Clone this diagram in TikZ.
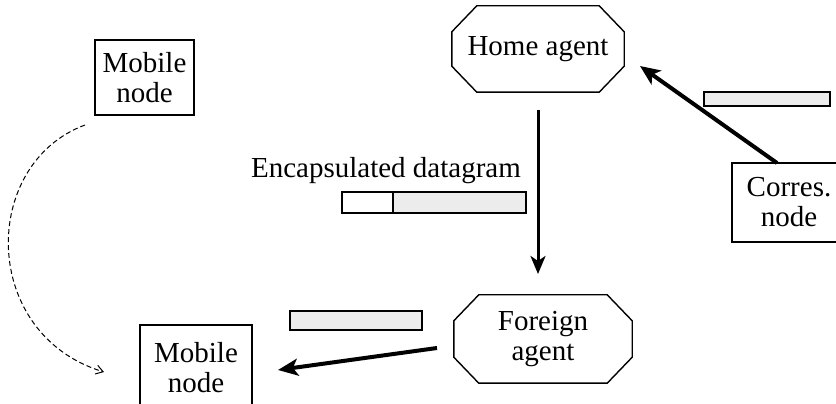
\documentclass[tikz,border=0pt]{standalone}
\usepackage{fontspec}
\setmainfont{Liberation Serif}
\usetikzlibrary{arrows.meta}
\newcommand\octagonframe[3]{%
  \draw[frameline] ([xshift=#2pt]#1.north west) -- ([xshift=-#2pt]#1.north east)
    -- ([yshift=-#3pt]#1.north east) -- ([yshift=#3pt]#1.south east)
    -- ([xshift=-#2pt]#1.south east) -- ([xshift=#2pt]#1.south west)
    -- ([yshift=#3pt]#1.south west) -- ([yshift=-#3pt]#1.north west) -- cycle;}
\begin{document}
\begin{tikzpicture}[x=1pt,y=1pt,
  frameline/.style={line width=1.4pt, line join=miter},
  lbl/.style={font=\fontsize{29}{30}\selectfont, align=center, inner sep=0pt},
  boxnode/.style={lbl, draw, line width=1.3pt, minimum width=#1},
  octnode/.style={lbl, minimum width=#1},
  bigarrow/.style={line width=4pt, -{Stealth[length=20pt,width=17pt,inset=5pt]}},
  midarrow/.style={line width=3pt, -{Stealth[length=18pt,width=15pt,inset=5pt]}},
  packet/.style={draw, line width=1.2pt, fill=gray!15},
  plain/.style={draw, line width=1.2pt, fill=white}]
\useasboundingbox (0,0) rectangle (836,404);

% nodes
\node[boxnode=99pt, minimum height=75pt] (mn1) at (144.5,326.5) {Mobile\\node};
\node[octnode=172pt, minimum height=86pt] (ha) at (538,355) {Home agent};
\octagonframe{ha}{25}{26}
\node[boxnode=114pt, minimum height=79pt] (cn) at (789,201.5) {Corres.\\node};
\node[octnode=178pt, minimum height=88pt] (fa) at (543,65) {Foreign\\agent};
\octagonframe{fa}{25}{26}
\node[boxnode=112pt, minimum height=86pt] (mn2) at (196,36) {Mobile\\node};

\node[lbl, anchor=base east] (enc) at (521,226) {Encapsulated datagram};

% packets
\path[packet] (704,298) rectangle (830,312);
\path[plain] (342,191) rectangle (393,212);
\path[packet] (393,191) rectangle (526,212);
\path[packet] (290,74) rectangle (422,93);

% connectors
\coordinate (cnstart) at (777,241);
\coordinate (haend) at (640,338);
\draw[bigarrow] (cnstart) -- (haend);
\coordinate (hastart) at (538,294);
\coordinate (faend) at (538,130);
\draw[midarrow] (hastart) -- (faend);
\coordinate (fastart) at (437,56);
\coordinate (mnend) at (278,34);
\draw[bigarrow] (fastart) -- (mnend);
\coordinate (mnstart) at (85,279);
\coordinate (mnarr) at (104,32);
\draw[line width=1pt, dash pattern=on 5pt off 3pt, -{Straight Barb[length=7pt,width=9pt]}]
  (mnstart) .. controls (-20,240) and (-20,70) .. (mnarr);
\end{tikzpicture}
\end{document}
